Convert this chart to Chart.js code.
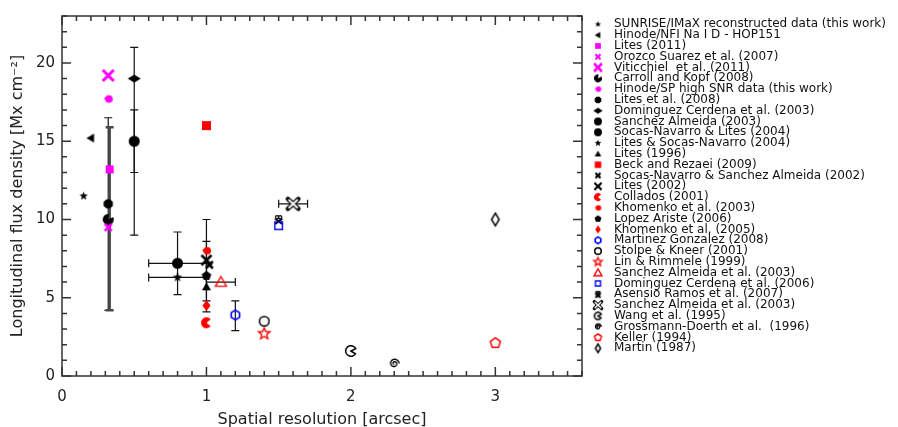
<!DOCTYPE html>
<html lang="en">
<head>
<meta charset="UTF-8">
<title>Longitudinal flux density vs spatial resolution</title>
<script src="https://cdn.jsdelivr.net/npm/chart.js"></script>
<style>
body { margin: 0; background: #ffffff; }
.wrap { position: relative; width: 898px; height: 427px; }
</style>
</head>
<body>
<div class="wrap"><canvas id="fluxChart"></canvas></div>
<script>
// Values (x in arcsec, y in Mx cm^-2)
const seriesLabels = [
  'SUNRISE/IMaX reconstructed data (this work)',
  'Hinode/NFI Na I D - HOP151',
  'Lites (2011)',
  'Orozco Suarez et al. (2007)',
  'Viticchiel  et al. (2011)',
  'Carroll and Kopf (2008)',
  'Hinode/SP high SNR data (this work)',
  'Lites et al. (2008)',
  'Dominguez Cerdena et al. (2003)',
  'Sanchez Almeida (2003)',
  'Socas-Navarro & Lites (2004)',
  'Lites & Socas-Navarro (2004)',
  'Lites (1996)',
  'Beck and Rezaei (2009)',
  'Socas-Navarro & Sanchez Almeida (2002)',
  'Lites (2002)',
  'Collados (2001)',
  'Khomenko et al. (2003)',
  'Lopez Ariste (2006)',
  'Khomenko et al. (2005)',
  'Martinez Gonzalez (2008)',
  'Stolpe & Kneer (2001)',
  'Lin & Rimmele (1999)',
  'Sanchez Almeida et al. (2003)',
  'Dominguez Cerdena et al. (2006)',
  'Asensio Ramos et al. (2007)',
  'Sanchez Almeida et al. (2003)',
  'Wang et al. (1995)',
  'Grossmann-Doerth et al.  (1996)',
  'Keller (1994)',
  'Martin (1987)'
];
const seriesX = [0.15, 0.2, 0.33, 0.32, 0.32, 0.32, 0.32, 0.32, 0.5, 0.5, 0.8, 0.8, 1.0, 1.0, 1.02, 1.0,
  1.0, 1.0, 1.0, 1.0, 1.2, 1.4, 1.4, 1.1, 1.5, 1.5, 1.6, 2.0, 2.3, 3.0, 3.0];
const seriesY = [11.5, 15.2, 13.2, 9.5, 19.2, 10.0, 17.7, 11.0, 19.0, 15.0, 7.2, 6.3, 5.7, 16.0, 7.1, 7.4,
  3.4, 8.0, 6.4, 4.5, 3.9, 3.5, 2.7, 6.0, 9.6, 10.0, 11.0, 1.6, 0.8, 2.1, 10.0];
const errYLow = [null, null, 4.2, 4.2, null, null, null, null, 9.0, 13.0, 5.2, null, null, null, null, 4.1,
  null, null, 4.8, null, 2.9, null, null, null, null, null, null, null, null, null, null];
const errYHigh = [null, null, 15.9, 16.5, null, null, null, null, 21.0, 17.0, 9.2, null, null, null, null, 10.0,
  null, null, 8.6, null, 4.8, null, null, null, null, null, null, null, null, null, null];
const errXLow = [null, null, null, null, null, null, null, null, null, null, 0.6, 0.6, null, null, null, null,
  null, null, null, null, null, null, null, 1.0, null, null, 1.5, null, null, null, null];
const errXHigh = [null, null, null, null, null, null, null, null, null, null, 1.0, 1.0, null, null, null, null,
  null, null, null, null, null, null, null, 1.2, null, null, 1.7, null, null, null, null];
const xTickValues = [0, 1, 2, 3];
const yTickValues = [0, 5, 10, 15, 20];

// marker look: [shape, colour, size, extra]
const markerSpecs = [
  ['star', '#000', 9], ['triLeft', '#000', 9], ['square', '#f0f', 8], ['x', '#f0f', 7, 2.5],
  ['x', '#f0f', 11, 3], ['notch', '#000', 11], ['nub', '#f0f', 9], ['octagon', '#000', 10],
  ['diamond', '#000', 13, 8], ['circle', '#000', 11], ['circle', '#000', 11], ['star', '#000', 10],
  ['triUp', '#000', 9], ['square', '#f00', 9], ['x', '#000', 7, 2.5], ['x', '#000', 10, 2.5],
  ['pacman', '#f00', 11], ['nub', '#f00', 9], ['pentagon', '#000', 10], ['diamond', '#f00', 8, 11],
  ['hexOpen', '#00f', 11], ['circleOpen', '#000', 11], ['starOpen', '#f00', 12], ['triUpOpen', '#f00', 11],
  ['squareOpen', '#00f', 9], ['xFancy', '#000', 9], ['xOutline', '#000', 13], ['pacmanOpen', '#000', 12],
  ['spiral', '#000', 11], ['pentagonOpen', '#f00', 12], ['diamondOpen', '#000', 9, 14]
];
const thickErrSeries = [2];
const FONT = "'DejaVu Sans', sans-serif";

function makeMarker(spec, scale) {
  const [kind, color, size, extra] = spec;
  const d = size * scale, r = d / 2;
  const e = extra ? extra * scale : 0;
  const dim = Math.ceil(Math.max(d, e)) + 6;
  const c = document.createElement('canvas');
  c.width = dim; c.height = dim;
  const g = c.getContext('2d');
  g.translate(dim / 2, dim / 2);
  g.fillStyle = color; g.strokeStyle = color; g.lineWidth = 1.4;
  const poly = (n, rot, rr) => {
    g.beginPath();
    for (let i = 0; i < n; i++) { const a = rot + i * 2 * Math.PI / n; g.lineTo(rr * Math.cos(a), rr * Math.sin(a)); }
    g.closePath();
  };
  const star = (inner) => {
    g.beginPath();
    for (let i = 0; i < 10; i++) {
      const a = -Math.PI / 2 + i * Math.PI / 5, rr = i % 2 ? r * inner : r;
      g.lineTo(rr * Math.cos(a), rr * Math.sin(a));
    }
    g.closePath();
  };
  switch (kind) {
    case 'star': star(0.42); g.fill(); break;
    case 'starOpen': star(0.45); g.stroke(); break;
    case 'triLeft': g.beginPath(); g.moveTo(-r, 0); g.lineTo(r * 0.7, -r); g.lineTo(r * 0.7, r); g.closePath(); g.fill(); break;
    case 'triUp': g.beginPath(); g.moveTo(0, -r); g.lineTo(r, r * 0.75); g.lineTo(-r, r * 0.75); g.closePath(); g.fill(); break;
    case 'triUpOpen': g.beginPath(); g.moveTo(0, -r); g.lineTo(r, r * 0.75); g.lineTo(-r, r * 0.75); g.closePath(); g.stroke(); break;
    case 'square': g.fillRect(-r, -r, d, d); break;
    case 'squareOpen': g.strokeRect(-r + 0.7, -r + 0.7, d - 1.4, d - 1.4); break;
    case 'x':
      g.lineWidth = Math.max(1.6, extra * Math.min(1, scale + 0.15));
      g.beginPath(); g.moveTo(-r, -r); g.lineTo(r, r); g.moveTo(-r, r); g.lineTo(r, -r); g.stroke(); break;
    case 'xOutline':
      g.lineCap = 'round';
      g.lineWidth = 4.5 * Math.max(scale, 0.7);
      g.beginPath(); g.moveTo(-r * 0.8, -r * 0.75); g.lineTo(r * 0.8, r * 0.75); g.moveTo(-r * 0.8, r * 0.75); g.lineTo(r * 0.8, -r * 0.75); g.stroke();
      g.strokeStyle = '#fff'; g.lineWidth = 2 * Math.max(scale, 0.6);
      g.beginPath(); g.moveTo(-r * 0.62, -r * 0.58); g.lineTo(r * 0.62, r * 0.58); g.moveTo(-r * 0.62, r * 0.58); g.lineTo(r * 0.62, -r * 0.58); g.stroke();
      break;
    case 'xFancy':
      g.lineWidth = 2;
      g.beginPath(); g.moveTo(-r * 0.8, -r * 0.2); g.lineTo(r * 0.8, r); g.moveTo(-r * 0.8, r); g.lineTo(r * 0.8, -r * 0.2); g.stroke();
      g.lineWidth = 1.3;
      g.beginPath(); g.arc(-r * 0.35, -r * 0.5, r * 0.35, 0, 2 * Math.PI); g.stroke();
      g.beginPath(); g.arc(r * 0.35, -r * 0.5, r * 0.35, 0, 2 * Math.PI); g.stroke();
      break;
    case 'circle': g.beginPath(); g.arc(0, 0, r, 0, 2 * Math.PI); g.fill(); break;
    case 'circleOpen': g.lineWidth = 1.5; g.beginPath(); g.arc(0, 0, r - 0.7, 0, 2 * Math.PI); g.stroke(); break;
    case 'octagon': poly(8, Math.PI / 8, r); g.fill(); break;
    case 'pentagon': poly(5, -Math.PI / 2, r); g.fill(); break;
    case 'pentagonOpen': g.lineWidth = 1.5; poly(5, -Math.PI / 2, r - 0.7); g.stroke(); break;
    case 'hexOpen': g.lineWidth = 1.6; poly(6, -Math.PI / 2, r - 0.7); g.stroke(); break;
    case 'diamond': g.beginPath(); g.moveTo(0, -e / 2); g.lineTo(r, 0); g.lineTo(0, e / 2); g.lineTo(-r, 0); g.closePath(); g.fill(); break;
    case 'diamondOpen': g.lineWidth = 1.5; g.beginPath(); g.moveTo(0, -e / 2 + 0.7); g.lineTo(r - 0.7, 0); g.lineTo(0, e / 2 - 0.7); g.lineTo(-r + 0.7, 0); g.closePath(); g.stroke(); break;
    case 'pacman': g.beginPath(); g.moveTo(0, 0); g.arc(0, 0, r, 0.22 * Math.PI, 1.78 * Math.PI); g.closePath(); g.fill(); break;
    case 'pacmanOpen': g.lineWidth = 1.5; g.beginPath(); g.moveTo(0, 0); g.arc(0, 0, r - 0.7, 0.18 * Math.PI, 1.85 * Math.PI); g.closePath(); g.stroke(); break;
    case 'notch': g.beginPath(); g.moveTo(0, 0); g.arc(0, 0, r, -0.15 * Math.PI, 1.55 * Math.PI); g.closePath(); g.fill(); break;
    case 'nub':
      g.beginPath(); g.arc(r * 0.15, 0, r * 0.85, 0, 2 * Math.PI); g.fill();
      g.beginPath(); g.moveTo(-r, -r * 0.1); g.lineTo(-r * 0.3, -r * 0.6); g.lineTo(-r * 0.3, r * 0.4); g.closePath(); g.fill();
      break;
    case 'spiral':
      g.lineWidth = 1.4; g.beginPath();
      for (let t = 0.15; t <= 1.0001; t += 0.01) { const a = t * 2 * 2 * Math.PI; g.lineTo((r - 0.7) * t * Math.cos(a), (r - 0.7) * t * Math.sin(a)); }
      g.stroke(); break;
  }
  return c;
}

const plotMarkers = markerSpecs.map(s => makeMarker(s, 1));
const legendMarkers = markerSpecs.map(s => makeMarker(s, 0.72));

const datasets = seriesLabels.map((label, i) => ({
  label: label,
  data: [{ x: seriesX[i], y: seriesY[i] }],
  pointStyle: plotMarkers[i],
  pointRadius: 4,
  showLine: false
}));

// error bars drawn through the scales, under the markers
const errorBars = {
  id: 'errorBars',
  beforeDatasetsDraw(chart) {
    const ctx = chart.ctx, xs = chart.scales.x, ys = chart.scales.y;
    const order = seriesX.map((v, i) => i).sort((a, b) => thickErrSeries.includes(a) - thickErrSeries.includes(b));
    ctx.save();
    order.forEach(i => {
      const thick = thickErrSeries.includes(i);
      ctx.strokeStyle = thick ? '#4a4a4a' : '#111';
      ctx.lineWidth = thick ? 2.5 : 1.2;
      const cap = 4;
      const px = xs.getPixelForValue(seriesX[i]), py = ys.getPixelForValue(seriesY[i]);
      ctx.beginPath();
      if (errYLow[i] != null) {
        const y0 = ys.getPixelForValue(errYLow[i]), y1 = ys.getPixelForValue(errYHigh[i]);
        ctx.moveTo(px, y0); ctx.lineTo(px, y1);
        ctx.moveTo(px - cap, y0); ctx.lineTo(px + cap, y0);
        ctx.moveTo(px - cap, y1); ctx.lineTo(px + cap, y1);
      }
      if (errXLow[i] != null) {
        const x0 = xs.getPixelForValue(errXLow[i]), x1 = xs.getPixelForValue(errXHigh[i]);
        ctx.moveTo(x0, py); ctx.lineTo(x1, py);
        ctx.moveTo(x0, py - cap); ctx.lineTo(x0, py + cap);
        ctx.moveTo(x1, py - cap); ctx.lineTo(x1, py + cap);
      }
      ctx.stroke();
    });
    ctx.restore();
  }
};

// IDL-style box with inward ticks on all four sides, plus the legend column
const frameAndLegend = {
  id: 'frameAndLegend',
  afterDraw(chart) {
    const ctx = chart.ctx, xs = chart.scales.x, ys = chart.scales.y;
    const { left, right, top, bottom } = chart.chartArea;
    ctx.save();
    ctx.strokeStyle = '#333';
    ctx.lineWidth = 1.5;
    ctx.strokeRect(left, top, right - left, bottom - top);
    ctx.beginPath();
    for (let k = 0; k <= 36; k++) {
      const px = xs.getPixelForValue(k / 10), len = k % 10 === 0 ? 9 : 5;
      ctx.moveTo(px, bottom); ctx.lineTo(px, bottom - len);
      ctx.moveTo(px, top); ctx.lineTo(px, top + len);
    }
    for (let k = 0; k <= 23; k++) {
      const py = ys.getPixelForValue(k), len = k % 5 === 0 ? 9 : 5;
      ctx.moveTo(left, py); ctx.lineTo(left + len, py);
      ctx.moveTo(right, py); ctx.lineTo(right - len, py);
    }
    ctx.stroke();

    ctx.fillStyle = '#111';
    ctx.font = '12px ' + FONT;
    ctx.textBaseline = 'middle';
    seriesLabels.forEach((label, i) => {
      const y = 24.3 + i * 10.8;
      const m = legendMarkers[i];
      ctx.drawImage(m, 598 - m.width / 2, y - m.height / 2);
      ctx.fillText(label, 614, y);
    });
    ctx.restore();
  }
};

new Chart(document.getElementById('fluxChart'), {
  type: 'scatter',
  data: { datasets: datasets },
  options: {
    responsive: true,
    maintainAspectRatio: false,
    animation: false,
    events: [],
    layout: { padding: { top: 5, right: 316, left: 0, bottom: 0 }, autoPadding: false },
    plugins: { legend: { display: false }, tooltip: { enabled: false } },
    scales: {
      x: {
        type: 'linear', min: 0, max: 3.6,
        afterBuildTicks: s => { s.ticks = xTickValues.map(v => ({ value: v })); },
        afterFit: s => { s.height = 51; },
        grid: { display: false, drawTicks: false },
        border: { display: false },
        ticks: { padding: 12, color: '#222', font: { family: FONT, size: 15 }, maxRotation: 0, autoSkip: false },
        title: { display: true, text: 'Spatial resolution [arcsec]', color: '#222', font: { family: FONT, size: 16 }, padding: { top: 0, bottom: -2 } }
      },
      y: {
        type: 'linear', min: 0, max: 23,
        afterBuildTicks: s => { s.ticks = yTickValues.map(v => ({ value: v })); },
        afterFit: s => { s.width = 62; },
        grid: { display: false, drawTicks: false },
        border: { display: false },
        ticks: { padding: 7, color: '#222', font: { family: FONT, size: 15 }, autoSkip: false },
        title: { display: true, text: 'Longitudinal flux density [Mx cm⁻²]', color: '#222', font: { family: FONT, size: 16 }, padding: { top: 8, bottom: 0 } }
      }
    }
  },
  plugins: [errorBars, frameAndLegend]
});
</script>
</body>
</html>
